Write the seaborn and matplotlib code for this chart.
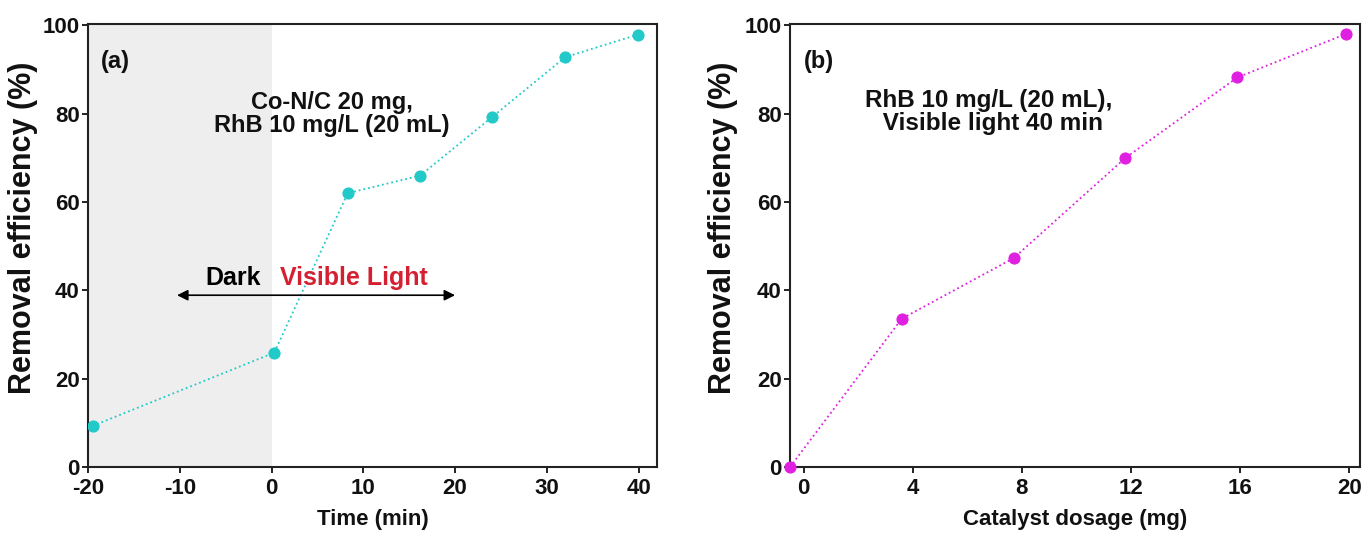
import numpy as np
import pandas as pd
import matplotlib
matplotlib.use("Agg")
import matplotlib.pyplot as plt
import seaborn as sns

# -------------------------
# Data
# -------------------------
time_min = [-19.5, 0.3, 8.3, 16.2, 24.0, 32.0, 39.9]
removal_time = [9.3, 25.9, 62.0, 66.0, 79.2, 92.8, 97.9]

dosage_mg = [-0.5, 3.6, 7.7, 11.8, 15.9, 19.9]
removal_dosage = [0.0, 33.6, 47.3, 70.0, 88.2, 98.1]

y_ticks = [0, 20, 40, 60, 80, 100]
x_ticks_a = [-20, -10, 0, 10, 20, 30, 40]
x_ticks_b = [0, 4, 8, 12, 16, 20]

cyan = "#22c9c9"
magenta = "#e020e0"

sns.set_style("ticks")
plt.rcParams["font.family"] = ["Liberation Sans", "DejaVu Sans"]
plt.rcParams["font.weight"] = "bold"
plt.rcParams["axes.labelweight"] = "bold"
plt.rcParams["axes.unicode_minus"] = False
plt.rcParams["text.color"] = "#111111"
plt.rcParams["axes.labelcolor"] = "#111111"

fig = plt.figure(figsize=(13.64, 5.33), dpi=100)
ax_a = fig.add_axes([0.0645, 0.1238, 0.4172, 0.8311])
ax_b = fig.add_axes([0.5792, 0.1238, 0.4179, 0.8311])

df_a = pd.DataFrame({"time": time_min, "removal": removal_time})
df_b = pd.DataFrame({"dosage": dosage_mg, "removal": removal_dosage})

# ---------------------------------------------------------
# (a) removal vs time
# ---------------------------------------------------------
ax_a.axvspan(-20, 0, color="#eeeeee", zorder=0, lw=0)
sns.lineplot(data=df_a, x="time", y="removal", ax=ax_a, color=cyan,
             linestyle=":", lw=1.3, marker="o", markersize=8,
             markeredgecolor=cyan, zorder=3)
ax_a.set_xlim(-20, 42)
ax_a.set_ylim(0, 100.3)
ax_a.set_xticks(x_ticks_a)
ax_a.set_yticks(y_ticks)
ax_a.set_xlabel("Time (min)", fontsize=16, labelpad=7)
ax_a.set_ylabel("Removal efficiency (%)", fontsize=22)
ax_a.yaxis.set_label_coords(-0.088, 0.54)

ax_a.text(-17.0, 91.9, "(a)", fontsize=17, ha="center", va="center", fontweight="bold")
ax_a.text(6.6, 79.9, "Co-N/C 20 mg,\nRhB 10 mg/L (20 mL)", fontsize=17,
          ha="center", va="center", multialignment="center", fontweight="bold",
          linespacing=1.0)
ax_a.annotate("", xy=(-10.6, 38.9), xytext=(20.3, 38.9),
              arrowprops=dict(arrowstyle="<|-|>", color="black", lw=1.2,
                              mutation_scale=16))
ax_a.text(-4.2, 42.8, "Dark", fontsize=18, ha="center", va="center",
          fontweight="bold", color="black")
ax_a.text(9.0, 42.8, "Visible Light", fontsize=18, ha="center", va="center",
          fontweight="bold", color="#d42030")

# ---------------------------------------------------------
# (b) removal vs catalyst dosage
# ---------------------------------------------------------
sns.lineplot(data=df_b, x="dosage", y="removal", ax=ax_b, color=magenta,
             linestyle=":", lw=1.3, marker="o", markersize=8,
             markeredgecolor=magenta, zorder=3, clip_on=False)
ax_b.set_xlim(-0.5, 20.4)
ax_b.set_ylim(0, 100.3)
ax_b.set_xticks(x_ticks_b)
ax_b.set_yticks(y_ticks)
ax_b.set_xlabel("Catalyst dosage (mg)", fontsize=16, labelpad=7)
ax_b.set_ylabel("Removal efficiency (%)", fontsize=22)
ax_b.yaxis.set_label_coords(-0.091, 0.54)

ax_b.text(0.55, 91.9, "(b)", fontsize=17, ha="center", va="center", fontweight="bold")
ax_b.text(6.8, 80.4, "RhB 10 mg/L (20 mL),\n Visible light 40 min", fontsize=17.5,
          ha="center", va="center", multialignment="center", fontweight="bold",
          linespacing=1.0)

for ax in (ax_a, ax_b):
    for s in ax.spines.values():
        s.set_linewidth(1.5)
        s.set_color("#222222")
    ax.tick_params(axis="both", direction="out", length=4, width=1.3,
                   labelsize=16, pad=2, colors="#111111")
    ax.tick_params(axis="x", pad=4)
    for lab in ax.get_xticklabels() + ax.get_yticklabels():
        lab.set_fontweight("bold")

fig.savefig("out.png", dpi=100)
